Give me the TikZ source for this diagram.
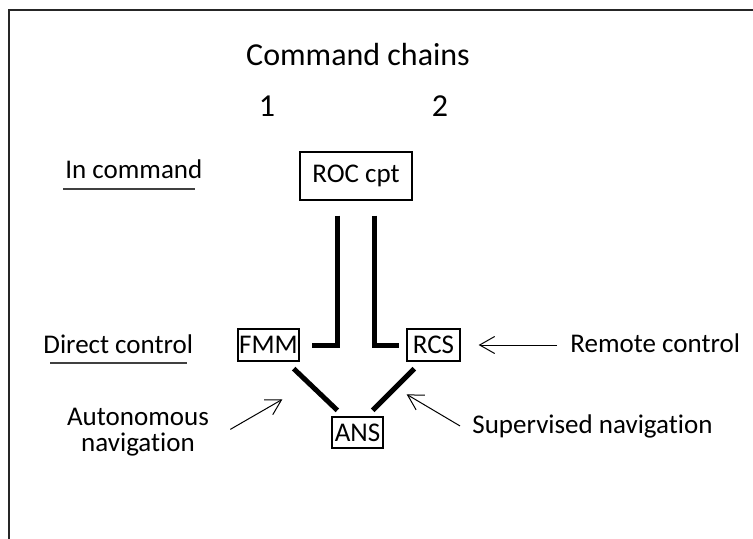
\documentclass[tikz,border=0pt]{standalone}
\usepackage{fontspec}
\setmainfont{Carlito}[RawFeature={-liga;-clig;-calt;-dlig}]
\usepackage{tikz}
\usetikzlibrary{arrows.meta, positioning, calc}
\tikzset{
    label_text/.style={
        inner sep=0pt, align=center, font=\fontsize{13.5}{13}\selectfont
    },
    title_text/.style={
        inner sep=0pt, font=\fontsize{16}{19}\selectfont
    },
    unit_box/.style={
        rectangle, draw=black, line width=0.65pt, inner sep=0pt, minimum height=16pt,
        font=\fontsize{13.5}{16}\selectfont
    },
    chain/.style={
        line width=2.5pt, draw=black
    },
    pointer/.style={
        line width=0.5pt, draw=black, -{Straight Barb[length=7.5pt, width=8.5pt]}
    },
    rule/.style={
        line width=1.1pt, draw=black!75
    }
}

\begin{document}
\begin{tikzpicture}[x=0.5pt, y=-0.5pt]
    \useasboundingbox (0,0) rectangle (753,539);
    \draw[line width=1pt, draw=black!85] (9,539) -- (9,10) -- (753,10);

    \node[title_text, anchor=base] (title) at (358,66) {Command chains};
    \node[title_text, anchor=base] (one) at (267,117) {1};
    \node[title_text, anchor=base] (two) at (440,117) {2};

    \node[label_text, anchor=base west] (incmd) at (65,179) {In command};
    \node[label_text, anchor=base west] (direct) at (43,353) {Direct control};
    \node[label_text, anchor=base west] (remote) at (570,352) {Remote control};
    \node[label_text, anchor=base west] (superv) at (472,433) {Supervised navigation};
    \node[label_text, anchor=north] (auton) at (138,408) {Autonomous\\navigation};

    \node[unit_box, minimum width=56pt, minimum height=24pt] (roc) at (356,176) {ROC cpt};
    \node[unit_box, minimum width=30.5pt] (fmm) at (268.5,345) {FMM};
    \node[unit_box, minimum width=26.5pt] (rcs) at (433.5,345) {RCS};
    \node[unit_box, minimum width=25.5pt, minimum height=15.5pt] (ans) at (357.5,432.5) {ANS};

    \draw[rule] ([xshift=-1pt, yshift=-5pt]incmd.base west) -- ([xshift=-4pt, yshift=-5pt]incmd.base east);
    \draw[rule] ([xshift=3.5pt, yshift=-5pt]direct.base west) -- ([xshift=-3pt, yshift=-5pt]direct.base east);

    \draw[chain] ([xshift=-9.5pt, yshift=-7.5pt]roc.south) |- ([xshift=6pt]fmm.east);
    \draw[chain] ([xshift=9pt, yshift=-7.5pt]roc.south) |- ([xshift=-3.5pt]rcs.west);
    \draw[chain] ([xshift=-3pt, yshift=-3.5pt]fmm.south east) -- ([xshift=3pt, yshift=3pt]ans.north west);
    \draw[chain] ([xshift=4pt, yshift=-3.5pt]rcs.south west) -- ([xshift=-5.5pt, yshift=3pt]ans.north east);

    \draw[pointer] ($(remote.west |- rcs.east)+(-13,0)$) -- ([xshift=9pt]rcs.east);
    \draw[pointer] ([xshift=-6pt]superv.west) -- ([xshift=11.5pt, yshift=11pt]ans.north east);
    \draw[pointer] ([xshift=10.5pt, yshift=1.5pt]auton.east) -- ([xshift=-24.5pt, yshift=8.5pt]ans.north west);
\end{tikzpicture}
\end{document}
